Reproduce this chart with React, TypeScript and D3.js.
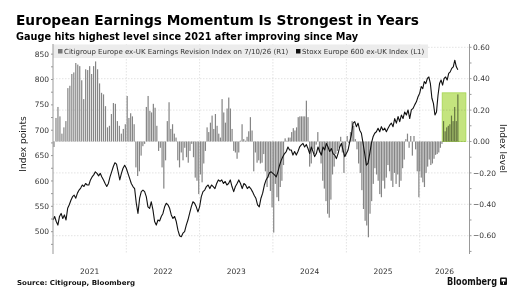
import * as d3 from "d3";
import { useEffect, useRef } from "react";

// Citigroup Europe ex-UK Earnings Revision Index (right axis), one array per year
const rev2021 = [-0.035, 0.15, 0.22, 0.16, 0.05, 0.09, 0.13, 0.34, 0.355, 0.43, 0.44, 0.5, 0.49, 0.48, 0.39, 0.27, 0.46, 0.455, 0.48, 0.43, 0.48, 0.51, 0.46, 0.37, 0.31, 0.3, 0.225, 0.09, 0.1, 0.175, 0.245, 0.24, 0.13, 0.1, 0.05, 0.08, 0.11];
const rev2022 = [0.29, 0.15, 0.18, 0.16, 0.11, -0.165, -0.22, -0.19, -0.09, -0.03, -0.015, 0.22, 0.29, 0.195, 0.185, 0.24, 0.215, 0.1, -0.06, -0.04, -0.165, -0.3, -0.12, 0.13, 0.25, 0.08, 0.11, 0.05, 0.025, -0.12, -0.165, -0.07, -0.12, -0.04, -0.1, -0.135, -0.06, -0.015, -0.1, -0.23, -0.25, -0.335];
const rev2023 = [-0.21, -0.26, -0.14, -0.06, 0.09, 0.06, 0.12, 0.165, 0.08, 0.175, 0.1, 0.05, 0.025, 0.27, 0.185, 0.12, 0.21, 0.28, 0.21, 0.08, -0.06, -0.07, -0.11, -0.07, 0.005, 0.11, 0.015, 0.005, 0.03, 0.065, 0.155, 0.07, -0.19, -0.07, -0.135, -0.12, -0.14, -0.135, -0.08, -0.19, -0.29, -0.23, -0.315, -0.42];
const rev2024 = [-0.58, -0.27, -0.355, -0.38, -0.29, -0.25, -0.15, 0.02, 0.005, 0.025, 0.025, 0.06, 0.085, 0.07, 0.09, 0.155, 0.16, 0.16, 0.16, 0.16, 0.26, 0.155, -0.16, -0.14, -0.05, -0.08, -0.02, 0.06, -0.07, -0.14, -0.25, -0.3, -0.38, -0.46, -0.485, -0.37, -0.21, -0.16, -0.08, -0.06, -0.04, 0.03, -0.07, -0.2, -0.095];
const rev2025 = [0.035, -0.01, 0.06, 0.13, 0.1, 0.015, -0.05, -0.14, -0.2, -0.31, -0.43, -0.505, -0.535, -0.61, -0.46, -0.38, -0.27, -0.17, -0.21, -0.25, -0.335, -0.355, -0.25, -0.3, -0.23, -0.15, -0.19, -0.25, -0.29, -0.2, -0.27, -0.21, -0.29, -0.25, -0.17, -0.115, 0.015, 0.05, -0.04, 0.035, -0.09, 0.035, -0.05, -0.19, -0.355];
const rev2026 = [-0.19, -0.23, -0.26, -0.29, -0.2, -0.16, -0.115, -0.15, -0.14, -0.11, -0.085, -0.08, -0.07, -0.04, -0.015, 0.13, 0.065, 0.09, 0.1, 0.11, 0.165, 0.13, 0.22, 0.13, 0.3];

// Stoxx Europe 600 ex-UK Index (left axis)
const stoxx2021 = [523, 530, 520, 513, 530, 536, 526, 533, 523, 546, 553, 562, 569, 572, 566, 576, 582, 586, 592, 589, 595, 592, 592, 602, 608, 612, 618, 615, 610, 615, 608, 602, 595, 589, 595, 608, 618, 628, 636, 633, 618, 602, 615, 625, 631];
const stoxx2022 = [625, 615, 605, 595, 589, 585, 556, 536, 566, 579, 582, 579, 569, 549, 546, 559, 543, 520, 513, 523, 521, 530, 536, 549, 556, 553, 546, 533, 526, 530, 520, 503, 492, 490, 497, 500, 513, 523, 536, 549, 559, 556, 549, 539];
const stoxx2023 = [549, 569, 579, 582, 589, 592, 585, 592, 589, 585, 595, 602, 599, 602, 595, 599, 592, 595, 602, 589, 579, 589, 595, 602, 595, 585, 595, 592, 585, 589, 585, 579, 572, 566, 553, 549, 566, 576, 592, 602, 608, 616, 618];
const stoxx2024 = [615, 612, 608, 618, 631, 641, 648, 654, 658, 667, 661, 661, 651, 658, 651, 658, 667, 671, 674, 667, 672, 664, 654, 667, 658, 648, 654, 667, 658, 651, 667, 661, 674, 667, 658, 664, 654, 651, 644, 654, 667, 674, 661, 648];
const stoxx2025 = [654, 661, 677, 691, 714, 717, 707, 714, 700, 694, 674, 654, 631, 635, 654, 674, 687, 694, 697, 704, 697, 707, 700, 704, 697, 704, 710, 714, 707, 723, 714, 727, 717, 730, 723, 736, 730, 740, 723, 740, 743, 750, 756, 766];
const stoxx2026 = [773, 786, 782, 796, 792, 802, 805, 792, 763, 753, 730, 736, 769, 792, 799, 789, 802, 805, 799, 812, 815, 822, 825, 838, 825, 819];

const lastDate = new Date(2026, 6, 10);
const years = [2021, 2022, 2023, 2024, 2025, 2026];
const leftTicks = [500, 550, 600, 650, 700, 750, 800, 850];
const rightTicks = [-0.6, -0.4, -0.2, 0, 0.2, 0.4, 0.6];
// highlighted stretch of the revision index since May
const highlight = { from: new Date(2026, 3, 23), to: new Date(2026, 7, 19), top: 0.31 };

interface Point {
  date: Date;
  value: number;
}

// spread one year of observations across that year (the last year ends at lastDate)
function spread(year: number, values: number[], centered: boolean): Point[] {
  const start = +new Date(year, 0, 1);
  const partial = year === 2026;
  const end = partial ? +lastDate : +new Date(year + 1, 0, 1);
  const n = values.length;
  return values.map((value, i) => {
    const t = partial ? i / (n - 1) : centered ? (i + 0.5) / n : i / n;
    return { date: new Date(start + (end - start) * t), value };
  });
}

const revision: Point[] = [rev2021, rev2022, rev2023, rev2024, rev2025, rev2026].flatMap((v, i) =>
  spread(years[i], v, true)
);
const stoxx: Point[] = [stoxx2021, stoxx2022, stoxx2023, stoxx2024, stoxx2025, stoxx2026].flatMap((v, i) =>
  spread(years[i], v, false)
);

const FONT = "DejaVu Sans, Verdana, sans-serif";

function App() {
  const ref = useRef<SVGSVGElement>(null);

  useEffect(() => {
    const width = 524;
    const height = 300;
    const left = 53;
    const right = 469.5;
    const top = 44;
    const bottom = 254;

    const x = d3
      .scaleTime()
      .domain([new Date(2021, 0, 1), new Date(2026, 8, 6)])
      .range([left, right]);
    const yL = d3.scaleLinear().domain([456, 870]).range([bottom, top]);
    const yR = d3.scaleLinear().domain([-0.7166, 0.621]).range([bottom, top]);

    const svg = d3
      .select(ref.current)
      .attr("width", width)
      .attr("height", height)
      .attr("viewBox", `0 0 ${width} ${height}`)
      .style("font-family", FONT);

    svg.append("rect").attr("width", width).attr("height", height).attr("fill", "#fff");

    // titles
    svg
      .append("text")
      .attr("x", 16)
      .attr("y", 25)
      .attr("font-size", 14)
      .attr("font-weight", "bold")
      .attr("fill", "#000")
      .attr("textLength", 403)
      .attr("lengthAdjust", "spacingAndGlyphs")
      .text("European Earnings Momentum Is Strongest in Years");
    svg
      .append("text")
      .attr("x", 16)
      .attr("y", 39.5)
      .attr("font-size", 10)
      .attr("font-weight", "bold")
      .attr("fill", "#000")
      .attr("textLength", 342)
      .attr("lengthAdjust", "spacingAndGlyphs")
      .text("Gauge hits highest level since 2021 after improving since May");

    // grid
    const grid = svg.append("g").attr("stroke", "#d0d0d0").attr("stroke-width", 0.6).attr("stroke-dasharray", "1.5,1.5");
    grid
      .selectAll("line.h")
      .data(rightTicks)
      .join("line")
      .attr("x1", left)
      .attr("x2", right)
      .attr("y1", (d) => yR(d))
      .attr("y2", (d) => yR(d));
    grid
      .selectAll("line.v")
      .data(years.slice(1))
      .join("line")
      .attr("x1", (d) => x(new Date(d, 0, 1)))
      .attr("x2", (d) => x(new Date(d, 0, 1)))
      .attr("y1", top)
      .attr("y2", bottom);

    // revision bars
    const bw = 1.2;
    svg
      .append("g")
      .selectAll("rect")
      .data(revision)
      .join("rect")
      .attr("x", (d) => x(d.date) - bw / 2)
      .attr("width", bw)
      .attr("y", (d) => Math.min(yR(d.value), yR(0)))
      .attr("height", (d) => Math.abs(yR(d.value) - yR(0)))
      .attr("fill", "#858585");

    // highlight box over the recent bars
    svg
      .append("rect")
      .attr("x", x(highlight.from))
      .attr("y", yR(highlight.top))
      .attr("width", x(highlight.to) - x(highlight.from))
      .attr("height", yR(0) - yR(highlight.top))
      .attr("fill", "#c4e47e")
      .attr("stroke", "#a6d452")
      .attr("stroke-width", 0.8)
      .style("mix-blend-mode", "multiply");

    // index line
    const line = d3
      .line<Point>()
      .x((d) => x(d.date))
      .y((d) => yL(d.value));
    svg
      .append("path")
      .datum(stoxx)
      .attr("d", line)
      .attr("fill", "none")
      .attr("stroke", "#111")
      .attr("stroke-width", 1.1)
      .attr("stroke-linejoin", "round");

    // legend
    const legend = svg.append("g").attr("font-size", 7).attr("fill", "#333");
    legend.append("rect").attr("x", left).attr("y", 44.5).attr("width", 375).attr("height", 13.5).attr("fill", "#ececec");
    legend.append("rect").attr("x", 58).attr("y", 49).attr("width", 4.5).attr("height", 4.5).attr("fill", "#777");
    legend
      .append("text")
      .attr("x", 64)
      .attr("y", 54.3)
      .text("Citigroup Europe ex-UK Earnings Revision Index on 7/10/26 (R1)");
    legend.append("rect").attr("x", 296).attr("y", 49).attr("width", 4.5).attr("height", 4.5).attr("fill", "#111");
    legend.append("text").attr("x", 302).attr("y", 54.3).text("Stoxx Europe 600 ex-UK Index (L1)");

    // left axis
    const axisColor = "#999";
    const la = svg.append("g");
    la.append("line").attr("x1", left).attr("x2", left).attr("y1", top).attr("y2", bottom).attr("stroke", axisColor);
    la.selectAll("line.minor")
      .data(d3.range(475, 870, 25))
      .join("line")
      .attr("x1", left - 2)
      .attr("x2", left)
      .attr("y1", (d) => yL(d))
      .attr("y2", (d) => yL(d))
      .attr("stroke", axisColor);
    la.selectAll("text")
      .data(leftTicks)
      .join("text")
      .attr("x", left - 4)
      .attr("y", (d) => yL(d))
      .attr("dy", "0.35em")
      .attr("text-anchor", "end")
      .attr("font-size", 7.5)
      .attr("fill", "#333")
      .text((d) => d);
    la.append("text")
      .attr("transform", `translate(25.5,144) rotate(-90)`)
      .attr("text-anchor", "middle")
      .attr("font-size", 9)
      .attr("fill", "#222")
      .text("Index points");

    // right axis
    const ra = svg.append("g");
    ra.append("line").attr("x1", right).attr("x2", right).attr("y1", top).attr("y2", bottom).attr("stroke", axisColor);
    ra.selectAll("line.minor")
      .data(d3.range(-7, 7).map((d) => d / 10))
      .join("line")
      .attr("x1", right)
      .attr("x2", right + 2)
      .attr("y1", (d) => yR(d))
      .attr("y2", (d) => yR(d))
      .attr("stroke", axisColor);
    ra.selectAll("text")
      .data(rightTicks)
      .join("text")
      .attr("x", right + 3.5)
      .attr("y", (d) => yR(d))
      .attr("dy", "0.35em")
      .attr("font-size", 7.5)
      .attr("fill", "#333")
      .text((d) => d3.format(".2f")(d));
    ra.append("text")
      .attr("transform", `translate(499.5,148.5) rotate(90)`)
      .attr("text-anchor", "middle")
      .attr("font-size", 9)
      .attr("fill", "#222")
      .text("Index level");

    // year labels centred in each year
    const xEnd = x.domain()[1];
    svg
      .append("g")
      .selectAll("text")
      .data(years)
      .join("text")
      .attr("x", (d) => {
        const a = new Date(d, 0, 1);
        const b = new Date(Math.min(+new Date(d + 1, 0, 1), +xEnd));
        return (x(a) + x(b)) / 2;
      })
      .attr("y", 274)
      .attr("text-anchor", "middle")
      .attr("font-size", 7.5)
      .attr("fill", "#333")
      .text((d) => d);

    // footer
    svg
      .append("text")
      .attr("x", 17)
      .attr("y", 284.5)
      .attr("font-size", 6.8)
      .attr("font-weight", "bold")
      .attr("fill", "#111")
      .attr("textLength", 118)
      .attr("lengthAdjust", "spacingAndGlyphs")
      .text("Source: Citigroup, Bloomberg");
    svg
      .append("text")
      .attr("x", 447)
      .attr("y", 285)
      .attr("font-size", 10)
      .attr("font-weight", "bold")
      .attr("fill", "#111")
      .attr("textLength", 50)
      .attr("lengthAdjust", "spacingAndGlyphs")
      .text("Bloomberg");
    const logo = svg.append("g").attr("transform", "translate(500,277.5)");
    logo.append("rect").attr("width", 7).attr("height", 7.5).attr("rx", 1).attr("fill", "#111");
    logo.append("rect").attr("x", 1.5).attr("y", 1.5).attr("width", 4).attr("height", 2.5).attr("fill", "#fff");
    logo.append("rect").attr("x", 3).attr("y", 4.5).attr("width", 1).attr("height", 2.2).attr("fill", "#fff");

    return () => {
      d3.select(ref.current).selectAll("*").remove();
    };
  }, []);

  return (
    <div style={{ position: "absolute", left: 0, top: 0 }}>
      <svg ref={ref} style={{ display: "block" }}></svg>
    </div>
  );
}

export default App;
